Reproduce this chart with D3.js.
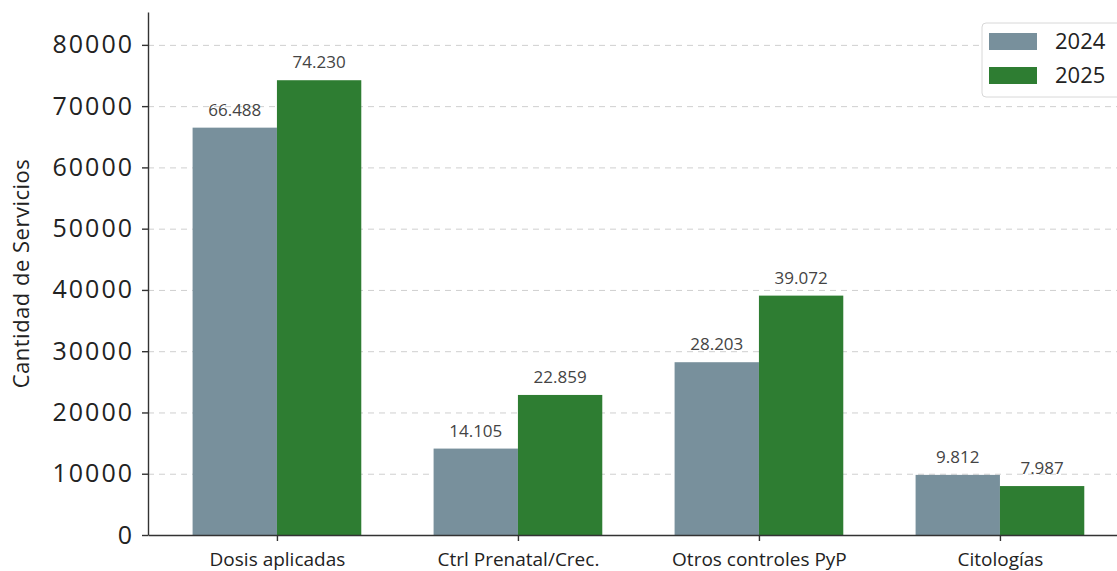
<!DOCTYPE html>
<html>
<head>
<meta charset="utf-8">
<script src="https://cdn.jsdelivr.net/npm/d3@7"></script>
<style>
  body { margin: 0; background: #fff; }
  svg { font-family: "Open Sans", sans-serif; }
  .grid line { stroke: #cfcfcf; stroke-dasharray: 6,5; }
  .grid .domain { display: none; }
  .axis path, .axis line { stroke: #333; stroke-width: 1.4; }
  .axis text { fill: #222; }
</style>
</head>
<body>
<svg id="chart" width="1117" height="571"></svg>
<script>
// data
var categories = ["Dosis aplicadas", "Ctrl Prenatal/Crec.", "Otros controles PyP", "Citologías"];
var years = ["2024", "2025"];
var values2024 = [66488, 14105, 28203, 9812];
var values2025 = [74230, 22859, 39072, 7987];
var yTicks = [0, 10000, 20000, 30000, 40000, 50000, 60000, 70000, 80000];
var colors = {"2024": "#78909c", "2025": "#2e7d32"};

var series = [values2024, values2025];

var margin = {top: 12, left: 148, bottom: 36};
var svg = d3.select("#chart");
var height = 571 - margin.top - margin.bottom;

// category index scale, like a matplotlib axis with 5% margins
var barW = 0.35;
var x = d3.scaleLinear()
    .domain([-0.535, categories.length - 1 + 0.535])
    .range([margin.left, margin.left + 241 * (categories.length - 1 + 1.07)]);

var ymax = d3.max(values2025.concat(values2024)) * 1.15;
var y = d3.scaleLinear().domain([0, ymax]).range([margin.top + height, margin.top]);

//Grid lines
svg.append("g")
    .attr("class", "grid")
    .attr("transform", "translate(" + margin.left + ",0)")
    .call(d3.axisLeft(y).tickValues(yTicks.slice(1)).tickSize(-1200).tickFormat(""));

//Bars
var fmt = function(v) { return d3.format(",")(v).replace(/,/g, "."); };
years.forEach(function(yr, s) {
    var g = svg.append("g");
    g.selectAll("rect")
        .data(series[s])
        .enter().append("rect")
        .attr("x", function(d, i) { return x(i + (s - 1) * barW); })
        .attr("width", x(barW) - x(0))
        .attr("y", function(d) { return y(d); })
        .attr("height", function(d) { return y(0) - y(d); })
        .attr("fill", colors[yr]);
    g.selectAll("text")
        .data(series[s])
        .enter().append("text")
        .attr("x", function(d, i) { return x(i + (s - 0.5) * barW); })
        .attr("y", function(d) { return y(d) - 12; })
        .attr("text-anchor", "middle")
        .attr("font-size", 17)
        .attr("fill", "#444")
        .text(fmt);
});

//Axes
var yAxis = svg.append("g")
    .attr("class", "axis")
    .attr("transform", "translate(" + margin.left + ",0)")
    .call(d3.axisLeft(y).tickValues(yTicks).tickFormat(d3.format("d"))
        .tickSize(6).tickPadding(8).tickSizeOuter(0));
yAxis.attr("font-family", null);
yAxis.selectAll("text").attr("font-size", 25).attr("letter-spacing", 2);

var xAxis = svg.append("g")
    .attr("class", "axis")
    .attr("transform", "translate(0," + y(0) + ")")
    .call(d3.axisBottom(x).tickValues(d3.range(categories.length))
        .tickFormat(function(i) { return categories[i]; })
        .tickSize(6).tickPadding(12).tickSizeOuter(0));
xAxis.attr("font-family", null);
xAxis.selectAll("text").attr("font-size", 19);

svg.append("text")
    .attr("transform", "translate(29," + (margin.top + height / 2) + ") rotate(-90)")
    .attr("text-anchor", "middle")
    .attr("font-size", 22)
    .attr("letter-spacing", 0.5)
    .attr("fill", "#222")
    .text("Cantidad de Servicios");

//Legend
var legend = svg.append("g").attr("transform", "translate(982,23)");
legend.append("rect")
    .attr("width", 150).attr("height", 74)
    .attr("rx", 4)
    .attr("fill", "#fff")
    .attr("stroke", "#d8d8d8");
years.forEach(function(yr, i) {
    legend.append("rect")
        .attr("x", 7).attr("y", 10 + i * 34)
        .attr("width", 48).attr("height", 17)
        .attr("fill", colors[yr]);
    legend.append("text")
        .attr("x", 73).attr("y", 26 + i * 34)
        .attr("font-size", 22)
        .attr("fill", "#222")
        .text(yr);
});
</script>
</body>
</html>
